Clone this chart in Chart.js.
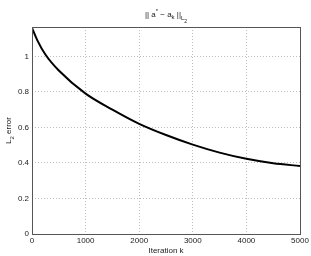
<!DOCTYPE html>
<html>
<head>
<meta charset="utf-8">
<script src="https://cdn.jsdelivr.net/npm/chart.js@4"></script>
<style>
  html, body { margin: 0; padding: 0; background: #fff; }
  #wrap { position: relative; width: 311px; height: 256px; }
</style>
</head>
<body>
<div id="wrap"><canvas id="c" width="311" height="256"></canvas></div>
<script>
const iterations = [0, 100, 250, 500, 1000, 1500, 2000, 2500, 3000, 3500, 4000, 4500, 5000];
const errL2 = [1.16, 1.09, 1.01, 0.92, 0.79, 0.70, 0.62, 0.557, 0.503, 0.458, 0.423, 0.398, 0.383];
const xTicks = [0, 1000, 2000, 3000, 4000, 5000];
const yTicks = [0, 0.2, 0.4, 0.6, 0.8, 1];

const FONT = "Liberation Sans, Arial, sans-serif";

// draws the box, the title and the y label (with sub/superscripts)
const decor = {
  id: "decor",
  afterDraw(chart) {
    const { ctx, chartArea: a } = chart;
    ctx.save();
    ctx.strokeStyle = "#555";
    ctx.lineWidth = 1;
    ctx.strokeRect(a.left + 0.5, a.top + 0.5, a.right - a.left, a.bottom - a.top);

    ctx.fillStyle = "#222";
    ctx.textBaseline = "alphabetic";
    // title: || a* - a_k ||_{L_2}
    const parts = [
      ["|| a", 8, 0],
      ["*", 6, -4],
      [" \u2212 a", 8, 0],
      ["k", 6, 2],
      [" ||", 8, 0],
      ["L", 6, 3],
      ["2", 5, 6],
    ];
    let w = 0;
    parts.forEach(([t, s]) => { ctx.font = `${s}px ${FONT}`; w += ctx.measureText(t).width; });
    let x = (a.left + a.right) / 2 - w / 2;
    parts.forEach(([t, s, dy]) => {
      ctx.font = `${s}px ${FONT}`;
      ctx.fillText(t, x, 17 + dy);
      x += ctx.measureText(t).width;
    });

    // y label: L_2 error
    ctx.translate(11, (a.top + a.bottom) / 2);
    ctx.rotate(-Math.PI / 2);
    const yl = [["L", 8, 0], ["2", 6, 3], [" error", 8, 0]];
    w = 0;
    yl.forEach(([t, s]) => { ctx.font = `${s}px ${FONT}`; w += ctx.measureText(t).width; });
    x = -w / 2;
    yl.forEach(([t, s, dy]) => {
      ctx.font = `${s}px ${FONT}`;
      ctx.fillText(t, x, dy);
      x += ctx.measureText(t).width;
    });
    ctx.restore();
  },
};

new Chart(document.getElementById("c"), {
  type: "line",
  data: {
    datasets: [{
      data: iterations.map((k, i) => ({ x: k, y: errL2[i] })),
      borderColor: "#000",
      borderWidth: 2,
      pointRadius: 0,
      cubicInterpolationMode: "monotone",
      fill: false,
    }],
  },
  options: {
    responsive: false,
    animation: false,
    devicePixelRatio: 1,
    layout: { padding: { top: 27, right: 11, left: 0, bottom: 0 } },
    plugins: { legend: { display: false }, tooltip: { enabled: false } },
    scales: {
      x: {
        type: "linear",
        min: 0,
        max: 5000,
        afterBuildTicks: (s) => { s.ticks = xTicks.map((v) => ({ value: v })); },
        afterFit: (s) => { s.height = 22; },
        grid: { color: "#bdbdbd", drawTicks: false },
        border: { display: false, dash: [1, 2] },
        ticks: { color: "#222", font: { family: FONT, size: 8 }, padding: 2, maxRotation: 0, callback: (v) => String(v) },
        title: { display: true, text: "Iteration k", color: "#222", font: { family: FONT, size: 8 }, padding: 0 },
      },
      y: {
        min: 0,
        max: 1.165,
        afterBuildTicks: (s) => { s.ticks = yTicks.map((v) => ({ value: v })); },
        afterFit: (s) => { s.width = 32; },
        grid: { color: "#bdbdbd", drawTicks: false },
        border: { display: false, dash: [1, 2] },
        ticks: { color: "#222", font: { family: FONT, size: 8 }, padding: 3, callback: (v) => String(v) },
      },
    },
  },
  plugins: [decor],
});
</script>
</body>
</html>
